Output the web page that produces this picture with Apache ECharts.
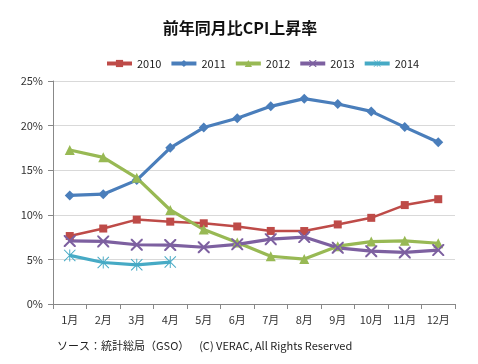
<!DOCTYPE html>
<html><head><meta charset="utf-8">
<script src="https://cdn.jsdelivr.net/npm/echarts@6/dist/echarts.min.js"></script>
<style>html,body{margin:0;padding:0;background:#fff}#c{width:478px;height:364px}</style>
</head><body><div id="c"></div>
<script>
const months = ['1月','2月','3月','4月','5月','6月','7月','8月','9月','10月','11月','12月'];
const years = ['2010','2011','2012','2013','2014'];
const v2010 = [7.62, 8.46, 9.46, 9.23, 9.05, 8.69, 8.19, 8.18, 8.92, 9.66, 11.09, 11.75];
const v2011 = [12.17, 12.31, 13.89, 17.51, 19.78, 20.82, 22.16, 23.02, 22.42, 21.59, 19.83, 18.13];
const v2012 = [17.27, 16.44, 14.15, 10.54, 8.34, 6.9, 5.35, 5.04, 6.48, 7.0, 7.08, 6.81];
const v2013 = [7.07, 7.02, 6.64, 6.61, 6.36, 6.69, 7.27, 7.5, 6.3, 5.92, 5.78, 6.04];
const v2014 = [5.45, 4.65, 4.39, 4.7];
const yTicks = [0, 5, 10, 15, 20, 25];

const colors = ['#BE4B48', '#4A7EBB', '#98B954', '#7D60A0', '#46AAC5'];
const xPath = 'path://M0,0 L1.2,0 L5,3.8 L8.8,0 L10,0 L10,1.2 L6.2,5 L10,8.8 L10,10 L8.8,10 L5,6.2 L1.2,10 L0,10 L0,8.8 L3.8,5 L0,1.2 Z';
const starPath = 'path://M0,0.6 L0.6,0 L5,4.4 L9.4,0 L10,0.6 L5.6,5 L10,9.4 L9.4,10 L5,5.6 L0.6,10 L0,9.4 L4.4,5 Z M4.6,0 L5.4,0 L5.4,10 L4.6,10 Z';
const symbols = ['rect', 'diamond', 'triangle', xPath, starPath];
const sizes = [8, 10, 10, 12, 12];
const data = [v2010, v2011, v2012, v2013, v2014];
const font = '"Noto Sans CJK JP", "Noto Sans", sans-serif';

const chart = echarts.init(document.getElementById('c'));
chart.setOption({
  animation: false,
  color: colors,
  title: [
    {text: '前年同月比CPI上昇率', left: 235, top: 15, textAlign: 'center',
     textStyle: {fontFamily: font, fontSize: 16, fontWeight: 'bold', color: '#111'}},
    {text: 'ソース：統計総局（GSO）    (C) VERAC, All Rights Reserved', left: 52, top: 335,
     textStyle: {fontFamily: font, fontSize: 11, fontWeight: 'normal', color: '#222'}}
  ],
  legend: {
    data: years, left: 100, top: 53, width: 376, itemWidth: 25, itemHeight: 9, itemGap: 8,
    lineStyle: {width: 4},
    textStyle: {fontFamily: font, fontSize: 11, color: '#222'},
    formatter: n => n
  },
  grid: {left: 53, right: 23, top: 81, bottom: 60},
  xAxis: {
    type: 'category', data: months, boundaryGap: true,
    axisLine: {lineStyle: {color: '#888'}},
    axisTick: {show: true, length: 5, lineStyle: {color: '#888'}},
    axisLabel: {fontFamily: font, fontSize: 11, color: '#333', margin: 10}
  },
  yAxis: {
    type: 'value', min: yTicks[0], max: yTicks[yTicks.length-1], interval: 5,
    axisLine: {show: true, lineStyle: {color: '#888'}},
    axisTick: {show: true, length: 5, lineStyle: {color: '#888'}},
    axisLabel: {fontFamily: font, fontSize: 11, color: '#333', formatter: '{value}%', margin: 10},
    splitLine: {lineStyle: {color: '#d9d9d9'}}
  },
  series: years.map((y, i) => ({
    name: y, type: 'line', data: data[i], smooth: false,
    symbol: symbols[i], symbolSize: sizes[i], showAllSymbol: true,
    lineStyle: {width: i === 0 ? 2.5 : 3.2, color: colors[i]},
    itemStyle: {color: colors[i]}
  }))
});
</script></body></html>
